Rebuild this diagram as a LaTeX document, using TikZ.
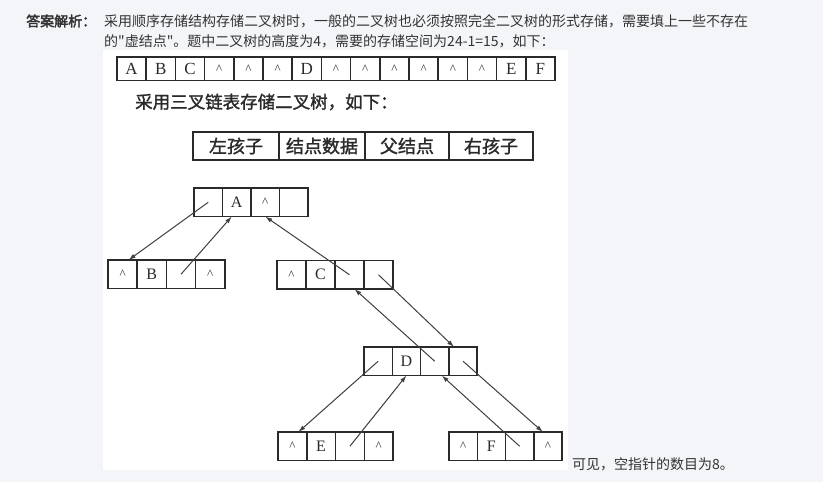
\documentclass[tikz,border=0pt]{standalone}
\usepackage{fontspec}
\setmainfont{Liberation Serif}
\newfontfamily\cjk{Noto Sans CJK SC}
\newfontfamily\cjkb{Noto Sans CJK SC}[FakeBold=2.5]
\newfontfamily\cjkscan{Noto Sans CJK SC}[FakeBold=1.5]
\usetikzlibrary{arrows.meta,calc}
\definecolor{pagebg}{HTML}{F4F5F8}
\definecolor{txt}{HTML}{333333}
\definecolor{ink}{HTML}{2A2A2A}
\newcommand\nilp{{\fontsize{13}{13}\selectfont\textasciicircum}}
\newcommand\mkquad[8]{%
  \node[cell,minimum width=#4pt] (#1-1) at (#2,#3) {#5};
  \node[cell,minimum width=#4pt] (#1-2) at ({#2+#4},#3) {#6};
  \node[cell,minimum width=#4pt] (#1-3) at ({#2+2*#4},#3) {#7};
  \node[cell,minimum width=#4pt] (#1-4) at ({#2+3*#4},#3) {#8};}
\begin{document}
\begin{tikzpicture}[x=1pt,y=-1pt,
  cell/.style={draw=ink,line width=1.5pt,anchor=north west,minimum height=28.5pt,
    inner sep=0pt,outer sep=0pt,font=\fontsize{16}{16}\selectfont,text=ink},
  acell/.style={cell,minimum width=29.2pt,minimum height=23.5pt,font=\fontsize{17}{17}\selectfont},
  hcell/.style={cell,minimum height=28pt,font=\cjkscan\fontsize{18}{18}\selectfont},
  ptr/.style={draw=ink!90,line width=1pt,-{Latex[length=7pt,width=4.5pt]}},
  web/.style={anchor=west,inner sep=0pt,text=txt,font=\cjk\fontsize{14}{14}\selectfont}]
\useasboundingbox (0,0) rectangle (823,482);
\fill[pagebg] (0,0) rectangle (823,482);
\fill[white] (103,50) rectangle (568,470);
% page text
\node[web,font=\cjkb\fontsize{14}{14}\selectfont] (lbl) at (26,21) {答案解析：};
\node[web] (l1) at (104,21) {采用顺序存储结构存储二叉树时，一般的二叉树也必须按照完全二叉树的形式存储，需要填上一些不存在};
\node[web] (l2) at (104,41) {的"虚结点"。题中二叉树的高度为4，需要的存储空间为24-1=15，如下：};
\node[web] (l3) at (572,464) {可见，空指针的数目为8。};
% sequential array
\foreach \t [count=\i from 0] in {A,B,C,\nilp,\nilp,\nilp,D,\nilp,\nilp,\nilp,\nilp,\nilp,\nilp,E,F}
  \node[acell] (arr-\i) at ({117+29.2*\i},57) {\t};
\node[anchor=west,inner sep=0pt,text=ink,font=\cjkscan\fontsize{17.5}{17.5}\selectfont] (cap) at (135,102) {采用三叉链表存储二叉树，如下：};
% header
\node[hcell,minimum width=86pt] (h1) at (193,132) {左孩子};
\node[hcell,minimum width=86pt] (h2) at (279,132) {结点数据};
\node[hcell,minimum width=84pt] (h3) at (365,132) {父结点};
\node[hcell,minimum width=84pt] (h4) at (449,132) {右孩子};
% tree nodes
\mkquad{A}{194}{188}{28.5}{}{A}{\nilp}{}
\mkquad{B}{108}{260}{29.2}{\nilp}{B}{}{\nilp}
\mkquad{C}{277}{260.5}{29}{\nilp}{C}{}{}
\mkquad{D}{364}{347}{28.3}{}{D}{}{}
\mkquad{E}{278}{432}{28.75}{\nilp}{E}{}{\nilp}
\mkquad{F}{449}{432}{28.25}{\nilp}{F}{}{\nilp}
% pointers
\draw[ptr] (A-1.center) -- ($(B-1.north)+(6,0)$);
\draw[ptr] (B-3.center) -- ($(A-2.south)+(-5,0)$);
\draw[ptr] (C-3.center) -- (A-3.south);
\draw[ptr] (C-4.center) -- ($(D-4.north)+(-9,0)$);
\draw[ptr] (D-3.center) -- ($(C-3.south)+(5,0)$);
\draw[ptr] (D-1.center) -- ($(E-1.north)+(6,0)$);
\draw[ptr] (E-3.center) -- (D-2.south);
\draw[ptr] (F-3.center) -- ($(D-3.south)+(7,0)$);
\draw[ptr] (D-4.center) -- ($(F-4.north)+(-5,0)$);
\end{tikzpicture}
\end{document}
